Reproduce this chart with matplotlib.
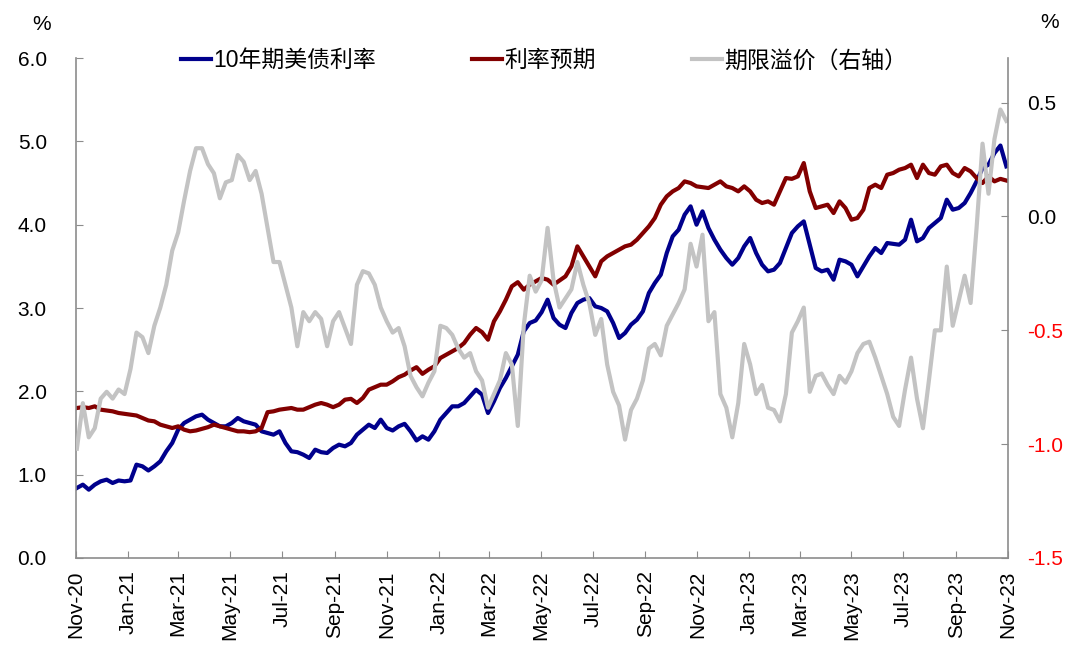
import matplotlib
matplotlib.use("Agg")
import matplotlib.pyplot as plt
import matplotlib.dates as mdates
import pandas as pd

plt.rcParams['font.family'] = ['Liberation Sans', 'Noto Sans CJK SC', 'DejaVu Sans']

# weekly observations (Mondays), Nov-2020 .. Oct-2023
dates = pd.date_range('2020-11-02', '2023-10-30', freq='7D')

# 10年期美债利率 (%)
yield_10y = [
    0.84, 0.88, 0.82, 0.88, 0.92, 0.94, 0.90, 0.93, 0.92, 0.93,
    1.12, 1.10, 1.05, 1.10, 1.16, 1.28, 1.38, 1.54, 1.62, 1.66,
    1.70, 1.72, 1.66, 1.62, 1.58, 1.58, 1.62, 1.68, 1.64, 1.62,
    1.60, 1.52, 1.50, 1.48, 1.52, 1.38, 1.28, 1.27, 1.24, 1.20,
    1.30, 1.27, 1.26, 1.32, 1.36, 1.34, 1.38, 1.48, 1.54, 1.60,
    1.56, 1.66, 1.56, 1.53, 1.58, 1.61, 1.52, 1.41, 1.46, 1.42,
    1.52, 1.66, 1.74, 1.82, 1.82, 1.86, 1.94, 2.02, 1.96, 1.74,
    1.88, 2.04, 2.16, 2.30, 2.44, 2.72, 2.82, 2.85, 2.95, 3.10,
    2.88, 2.80, 2.76, 2.94, 3.06, 3.10, 3.12, 3.02, 3.00, 2.96,
    2.82, 2.64, 2.70, 2.80, 2.86, 2.96, 3.18, 3.30, 3.40, 3.66,
    3.86, 3.94, 4.12, 4.22, 4.00, 4.16, 3.96, 3.82, 3.70, 3.60,
    3.52, 3.60, 3.74, 3.84, 3.66, 3.52, 3.44, 3.46, 3.54, 3.72,
    3.90, 3.98, 4.04, 3.76, 3.48, 3.44, 3.46, 3.34, 3.58, 3.56,
    3.52, 3.38, 3.50, 3.62, 3.72, 3.66, 3.78, 3.77, 3.76, 3.82,
    4.06, 3.80, 3.84, 3.96, 4.02, 4.08, 4.30, 4.18, 4.20, 4.26,
    4.38, 4.52, 4.68, 4.72, 4.86, 4.95, 4.70,
]

# 利率预期 (%)
rate_expect = [
    1.80, 1.81, 1.80, 1.82, 1.78, 1.77, 1.76, 1.74, 1.73, 1.72,
    1.71, 1.68, 1.65, 1.64, 1.60, 1.58, 1.56, 1.58, 1.54, 1.52,
    1.53, 1.55, 1.57, 1.60, 1.58, 1.56, 1.54, 1.52, 1.52, 1.51,
    1.52, 1.56, 1.75, 1.76, 1.78, 1.79, 1.80, 1.78, 1.78, 1.81,
    1.84, 1.86, 1.84, 1.81, 1.84, 1.90, 1.91, 1.86, 1.92, 2.02,
    2.05, 2.08, 2.08, 2.12, 2.17, 2.20, 2.25, 2.29, 2.21, 2.26,
    2.30, 2.40, 2.44, 2.48, 2.52, 2.58, 2.68, 2.76, 2.71, 2.62,
    2.84, 2.96, 3.10, 3.26, 3.31, 3.22, 3.28, 3.32, 3.36, 3.34,
    3.28, 3.33, 3.38, 3.50, 3.74, 3.62, 3.50, 3.38, 3.56, 3.62,
    3.66, 3.70, 3.74, 3.76, 3.82, 3.90, 3.98, 4.08, 4.24, 4.34,
    4.40, 4.44, 4.52, 4.50, 4.46, 4.45, 4.44, 4.48, 4.52, 4.46,
    4.44, 4.40, 4.46, 4.40, 4.30, 4.26, 4.28, 4.24, 4.40, 4.56,
    4.55, 4.58, 4.74, 4.40, 4.20, 4.22, 4.24, 4.14, 4.28, 4.20,
    4.06, 4.08, 4.18, 4.44, 4.48, 4.44, 4.60, 4.62, 4.66, 4.68,
    4.72, 4.56, 4.72, 4.62, 4.60, 4.70, 4.72, 4.62, 4.58, 4.68,
    4.64, 4.56, 4.50, 4.58, 4.52, 4.55, 4.53,
]

# 期限溢价 (%, right axis)
term_premium = [
    -1.02, -0.82, -0.97, -0.93, -0.80, -0.77, -0.80, -0.76, -0.78, -0.67,
    -0.51, -0.53, -0.60, -0.48, -0.40, -0.30, -0.15, -0.07, 0.07, 0.20,
    0.30, 0.30, 0.23, 0.19, 0.08, 0.15, 0.16, 0.27, 0.24, 0.16,
    0.20, 0.10, -0.05, -0.20, -0.20, -0.30, -0.40, -0.57, -0.42, -0.46,
    -0.42, -0.45, -0.57, -0.46, -0.42, -0.49, -0.56, -0.30, -0.24, -0.25,
    -0.30, -0.40, -0.46, -0.51, -0.49, -0.57, -0.70, -0.75, -0.79, -0.73,
    -0.68, -0.48, -0.49, -0.52, -0.58, -0.62, -0.60, -0.68, -0.72, -0.84,
    -0.78, -0.72, -0.60, -0.65, -0.92, -0.48, -0.26, -0.33, -0.28, -0.05,
    -0.28, -0.40, -0.36, -0.32, -0.20, -0.30, -0.38, -0.52, -0.45, -0.65,
    -0.77, -0.83, -0.98, -0.85, -0.80, -0.72, -0.58, -0.56, -0.61, -0.48,
    -0.43, -0.38, -0.32, -0.12, -0.22, -0.08, -0.46, -0.42, -0.78, -0.84,
    -0.97, -0.82, -0.56, -0.65, -0.78, -0.74, -0.84, -0.85, -0.90, -0.78,
    -0.51, -0.46, -0.40, -0.77, -0.70, -0.69, -0.74, -0.78, -0.70, -0.73,
    -0.68, -0.60, -0.56, -0.55, -0.62, -0.70, -0.78, -0.88, -0.92, -0.76,
    -0.62, -0.80, -0.93, -0.72, -0.50, -0.50, -0.22, -0.48, -0.37, -0.26,
    -0.38, -0.05, 0.32, 0.10, 0.34, 0.47, 0.42,
]

labels = ['10年期美债利率', '利率预期', '期限溢价（右轴）']

fig = plt.figure(figsize=(10.8, 6.68), dpi=100)
ax = fig.add_axes([0.0704, 0.1647, 0.8630, 0.7484])
ax2 = ax.twinx()

l1, = ax.plot(dates, yield_10y, color='#00008C', lw=3, label=labels[0])
l2, = ax.plot(dates, rate_expect, color='#820000', lw=3, label=labels[1])
l3, = ax2.plot(dates, term_premium, color='#C3C3C3', lw=3, label=labels[2])

ax.set_xlim(pd.Timestamp('2020-11-01'), pd.Timestamp('2023-11-01'))
ax.set_ylim(0, 6)
ax.set_yticks([0, 1, 2, 3, 4, 5, 6])
ax.yaxis.set_major_formatter(matplotlib.ticker.FormatStrFormatter('%.1f'))
ax2.set_ylim(-1.5, 0.696)
ax2.set_yticks([-1.5, -1.0, -0.5, 0.0, 0.5])
ax2.yaxis.set_major_formatter(matplotlib.ticker.FormatStrFormatter('%.1f'))

ax.xaxis.set_major_locator(mdates.MonthLocator(bymonth=[1, 3, 5, 7, 9, 11]))
ax.xaxis.set_major_formatter(mdates.DateFormatter('%b-%y'))

spine_c = '#8C8C8C'
for a in (ax, ax2):
    a.spines['top'].set_visible(False)
    for s in ('left', 'right', 'bottom'):
        a.spines[s].set_color(spine_c)
        a.spines[s].set_linewidth(1.2)
ax.spines['right'].set_visible(False)
ax2.spines['left'].set_visible(False)
ax2.spines['bottom'].set_visible(False)

ax.tick_params(axis='y', direction='in', length=5, color=spine_c, labelsize=15, pad=21)
ax.tick_params(axis='x', direction='in', length=5, color=spine_c, labelsize=15, pad=9,
               labelrotation=90)
ax2.tick_params(axis='y', direction='in', length=5, color=spine_c, labelsize=15, pad=14)
for t in ax2.get_yticklabels():
    if t.get_text().startswith('-') or t.get_text().startswith('\u2212'):
        t.set_color('red')
fig.canvas.draw()
for t, v in zip(ax2.get_yticklabels(), ax2.get_yticks()):
    t.set_color('red' if v < 0 else 'black')

fig.text(42 / 1080, 1 - 24 / 668, '%', fontsize=15, ha='center', va='center')
fig.text(1050 / 1080, 1 - 22 / 668, '%', fontsize=15, ha='center', va='center')

fig.legend(handles=[l1, l2, l3], loc='center', bbox_to_anchor=(0.504, 0.909),
           ncol=3, frameon=False, fontsize=16.5, handlelength=1.3,
           handletextpad=0.1, columnspacing=4.2, borderpad=0)

fig.savefig('out.png', dpi=100)
